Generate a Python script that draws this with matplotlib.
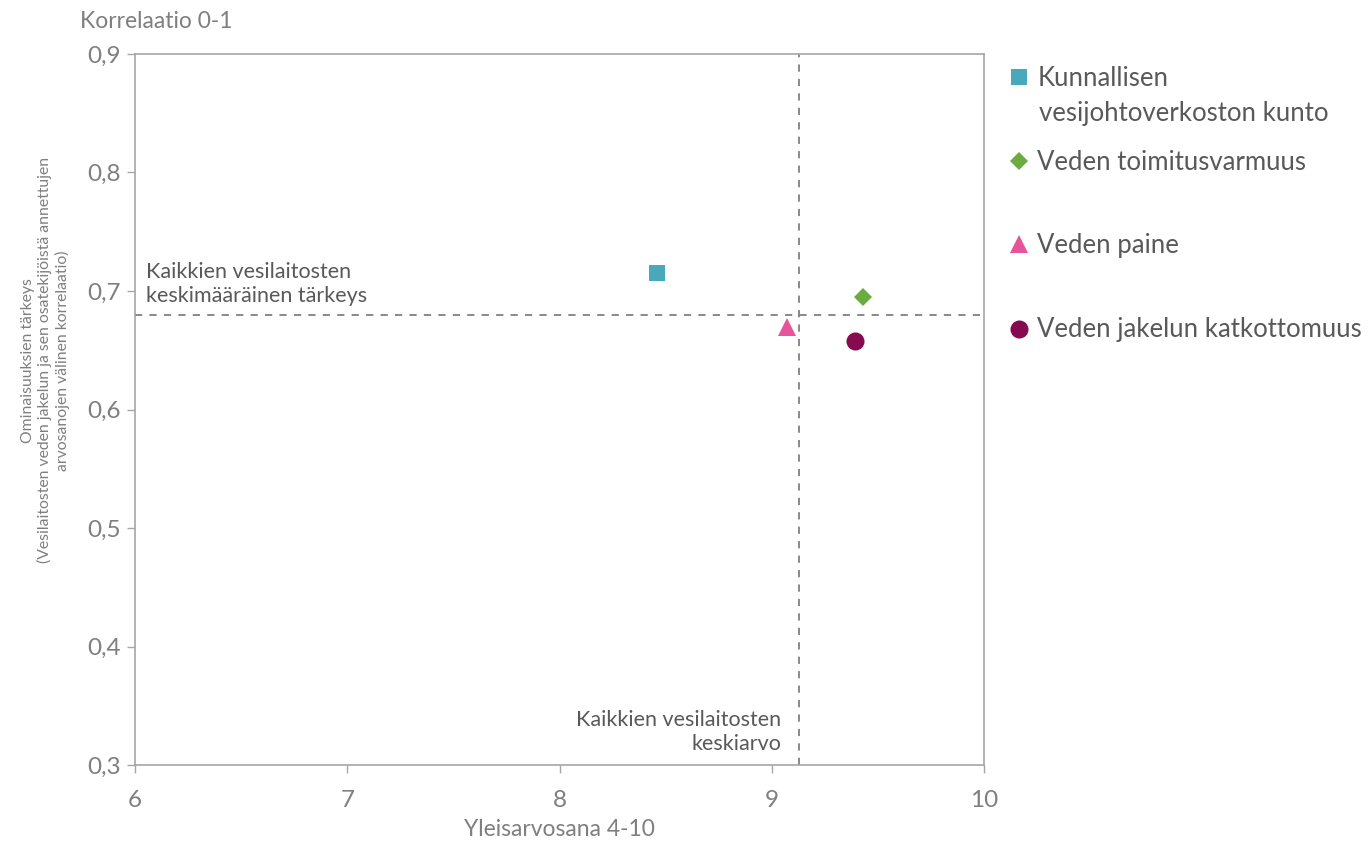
"""Scatter: vesilaitosten ominaisuuksien tärkeys vs. yleisarvosana."""

import matplotlib
matplotlib.use("Agg")
import matplotlib.pyplot as plt
from matplotlib.ticker import FuncFormatter

plt.rcParams["font.family"] = ["Lato", "DejaVu Sans"]

# data
names = [
    "Kunnallisen\nvesijohtoverkoston kunto",
    "Veden toimitusvarmuus",
    "Veden paine",
    "Veden jakelun katkottomuus",
]
grades = [8.46, 9.43, 9.07, 9.39]
correlations = [0.715, 0.695, 0.670, 0.658]
avg_grade = 9.13
avg_corr = 0.68

markers = ["s", "D", "^", "o"]
colors = ["#4aa8bd", "#6aac3f", "#e8549a", "#850a4f"]
sizes = [12, 9, 13, 13]
legend_y = [78, 162, 245, 330]  # pixel rows of the legend entries

TEXT = "#595959"
TICK = "#7f7f7f"

fig = plt.figure(figsize=(13.68, 8.42), dpi=100)
ax = fig.add_axes([0.0987, 0.0914, 0.6206, 0.8445])

handles = []
for x, y, name, m, c, s in zip(grades, correlations, names, markers, colors, sizes):
    h, = ax.plot(x, y, linestyle="none", marker=m, color=c, markersize=s,
                 markeredgewidth=0, label=name)
    handles.append(h)

ax.axvline(avg_grade, color="#808080", linestyle=(0, (4, 4)), linewidth=1.3, zorder=1)
ax.axhline(avg_corr, color="#808080", linestyle=(0, (4, 4)), linewidth=1.3, zorder=1)

ax.text(6.05, avg_corr + 0.007, "Kaikkien vesilaitosten\nkeskimääräinen tärkeys",
        ha="left", va="bottom", fontsize=15.5, color=TEXT, linespacing=1.3)
ax.text(avg_grade - 0.085, 0.309, "Kaikkien vesilaitosten\nkeskiarvo",
        ha="right", va="bottom", fontsize=15.5, color=TEXT, linespacing=1.3)

ax.set_xlim(6, 10)
ax.set_ylim(0.3, 0.9)
ax.set_xticks([6, 7, 8, 9, 10])
ax.set_yticks([0.3, 0.4, 0.5, 0.6, 0.7, 0.8, 0.9])
ax.yaxis.set_major_formatter(FuncFormatter(lambda v, _: f"{v:.1f}".replace(".", ",")))
ax.tick_params(axis="both", colors="#a6a6a6", labelcolor=TICK, labelsize=17.5,
               length=6, width=1, direction="out")
ax.tick_params(axis="y", pad=4)
ax.tick_params(axis="x", pad=12)
for spine in ax.spines.values():
    spine.set_color("#a6a6a6")
    spine.set_linewidth(1.2)

ax.set_xlabel("Yleisarvosana 4-10", fontsize=16.5, color=TICK, labelpad=6)
fig.text(0.0585, 0.975, "Korrelaatio 0-1", fontsize=16.5, color=TICK,
         ha="left", va="center")
fig.text(0.033, 0.572,
         "Ominaisuuksien tärkeys\n(Vesilaitosten veden jakelun ja sen osatekijöistä annettujen\n"
         "arvosanojen välinen korrelaatio)",
         rotation=90, ha="center", va="center", fontsize=11.3, color=TICK,
         multialignment="center", linespacing=1.2)

# one legend per entry so the uneven spacing of the original can be kept;
# the first label's second line goes underneath as plain text, marker stays on line one
for h, py in zip(handles, legend_y):
    label = h.get_label().split("\n")
    leg = fig.legend([h], [label[0]], loc="center left",
                     bbox_to_anchor=(0.7375, 1 - py / 842), frameon=False,
                     fontsize=18.5, handlelength=0.8, handletextpad=0.3,
                     borderaxespad=0, borderpad=0, markerscale=1.0)
    for t in leg.get_texts():
        t.set_color(TEXT)
    for extra, line in enumerate(label[1:], start=1):
        fig.text(1039 / 1368, 1 - (py + 35 * extra) / 842, line, fontsize=18.5,
                 color=TEXT, ha="left", va="center")

fig.savefig("out.png", dpi=100)
